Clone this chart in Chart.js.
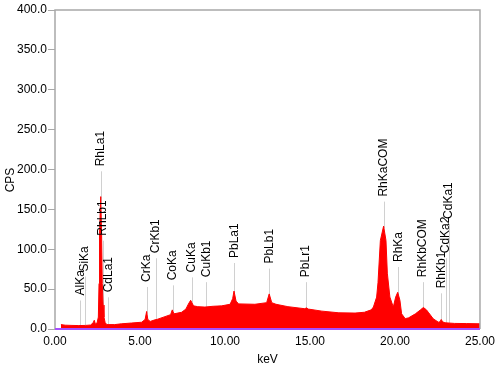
<!DOCTYPE html>
<html>
<head>
<meta charset="utf-8">
<script src="https://cdn.jsdelivr.net/npm/chart.js@4"></script>
<style>
  body { margin: 0; background: #fff; }
  canvas { display: block; }
</style>
</head>
<body>
<canvas id="spectrum" width="500" height="372"></canvas>
<script>
// spectrum (keV / CPS)
const energies = [
  0.35, 0.6, 1.0, 1.4, 1.8, 2.1, 2.25, 2.31, 2.38, 2.48,
  2.55, 2.59, 2.62, 2.69, 2.74, 2.78, 2.83, 2.88, 2.95, 3.05,
  3.5, 3.9, 4.5, 5.1, 5.3, 5.39, 5.46, 5.6, 5.88, 6.0,
  6.47, 6.8, 6.9, 7.0, 7.45, 7.7, 7.84, 7.98, 8.15, 8.4,
  8.82, 9.3, 9.8, 10.3, 10.45, 10.53, 10.65, 10.8, 11.76, 12.45,
  12.6, 12.75, 13.0, 13.7, 14.7, 14.78, 14.9, 15.7, 16.7, 17.65,
  18.2, 18.6, 18.73, 18.92, 19.0, 19.14, 19.33, 19.47, 19.55, 19.7,
  19.9, 20.04, 20.16, 20.29, 20.39, 20.6, 20.8, 21.2, 21.5, 21.67,
  21.85, 21.96, 22.25, 22.55, 22.65, 22.72, 22.8, 22.94, 23.5, 24.2,
  25.0
];
const cps = [
  5.5, 4.8, 4.5, 4.3, 4.5, 5, 8, 11, 6, 8,
  15, 57, 120, 166, 120, 57, 30, 15, 8, 5.5,
  5.5, 6.5, 7.5, 8.5, 12, 22, 12, 9.5, 11.5, 12,
  15.5, 18, 24, 19, 21, 25, 31, 36, 29, 28,
  27.5, 28.5, 29, 31, 38, 47.5, 35, 31.5, 31, 33,
  44, 33, 31, 28, 25.4, 26.5, 25, 22.4, 20.3, 20,
  21, 24, 27.5, 40, 58, 111, 129, 111, 70, 40,
  27.5, 40, 46, 36, 19, 13, 14, 19, 24, 27,
  24, 21, 12.8, 8.6, 9, 12, 9, 7.8, 7, 6.8,
  6.5
];

// peak labels: name, line energy (keV), CPS where the text starts
const peakNames = ['AlKa', 'SiKa', 'RhLa1', 'RhLb1', 'CdLa1', 'CrKa', 'CrKb1', 'CoKa', 'CuKa', 'CuKb1',
  'PbLa1', 'PbLb1', 'PbLr1', 'RhKaCOM', 'RhKa', 'RhKbCOM', 'RhKb1', 'CdKa2', 'CdKa1'];
const peakKeV = [1.49, 1.74, 2.70, 2.83, 3.13, 5.41, 5.95, 6.93, 8.05, 8.91,
  10.55, 12.61, 14.76, 19.35, 20.2, 21.65, 22.72, 22.98, 23.17];
const peakTextCps = [42, 72, 204, 117, 46, 59, 95, 61, 71, 65,
  89, 82, 65, 166, 84, 65, 51, 95, 138];

const xTicks = [0, 5, 10, 15, 20, 25];

function spectrumAt(e) {
  if (e <= energies[0]) return cps[0];
  for (let i = 1; i < energies.length; i++) {
    if (e <= energies[i]) {
      const t = (e - energies[i - 1]) / (energies[i] - energies[i - 1]);
      return cps[i - 1] + t * (cps[i] - cps[i - 1]);
    }
  }
  return cps[cps.length - 1];
}

const labelFont = '12px "Liberation Sans", Arial, sans-serif';

const peakLabels = {
  id: 'peakLabels',
  beforeDatasetsDraw(chart) {
    const { ctx, scales: { x, y } } = chart;
    ctx.save();
    ctx.strokeStyle = '#d0d0d0';
    ctx.lineWidth = 1;
    peakKeV.forEach((e, i) => {
      const px = Math.round(x.getPixelForValue(e)) + 0.5;
      ctx.beginPath();
      ctx.moveTo(px, y.getPixelForValue(peakTextCps[i]) + 5);
      ctx.lineTo(px, y.getPixelForValue(spectrumAt(e)));
      ctx.stroke();
    });
    ctx.restore();
  },
  afterDatasetsDraw(chart) {
    const { ctx, chartArea: a, scales: { x, y } } = chart;
    ctx.save();
    // frame
    ctx.strokeStyle = '#a8a8a8';
    ctx.lineWidth = 1.5;
    ctx.beginPath();
    ctx.moveTo(a.left, a.bottom);
    ctx.lineTo(a.left, a.top);
    ctx.lineTo(a.right, a.top);
    ctx.lineTo(a.right, a.bottom);
    ctx.stroke();
    // zero line
    ctx.strokeStyle = '#a64dff';
    ctx.lineWidth = 2;
    ctx.beginPath();
    ctx.moveTo(a.left, y.getPixelForValue(0));
    ctx.lineTo(a.right, y.getPixelForValue(0));
    ctx.stroke();
    // peak names
    ctx.fillStyle = '#000';
    ctx.font = labelFont;
    ctx.textAlign = 'left';
    ctx.textBaseline = 'middle';
    peakNames.forEach((name, i) => {
      ctx.save();
      ctx.translate(x.getPixelForValue(peakKeV[i]), y.getPixelForValue(peakTextCps[i]));
      ctx.rotate(-Math.PI / 2);
      ctx.fillText(name, 0, 0);
      ctx.restore();
    });
    // y title
    ctx.save();
    ctx.translate(11, 180);
    ctx.rotate(-Math.PI / 2);
    ctx.textAlign = 'center';
    ctx.fillText('CPS', 0, 0);
    ctx.restore();
    ctx.restore();
  }
};

new Chart(document.getElementById('spectrum'), {
  type: 'line',
  data: {
    datasets: [{
      data: energies.map((e, i) => ({ x: e, y: cps[i] })),
      borderColor: '#ff0000',
      backgroundColor: '#ff0000',
      borderWidth: 1,
      pointRadius: 0,
      tension: 0,
      fill: 'origin'
    }]
  },
  options: {
    responsive: false,
    animation: false,
    layout: { padding: { top: 10, right: 20, left: 0, bottom: 0 } },
    plugins: { legend: { display: false }, tooltip: { enabled: false } },
    scales: {
      x: {
        type: 'linear',
        min: 0,
        max: 25,
        afterFit: s => { s.height = 43; },
        afterBuildTicks: s => { s.ticks = xTicks.map(v => ({ value: v })); },
        grid: { display: false, drawTicks: false },
        border: { display: false },
        ticks: {
          padding: 5,
          color: '#000',
          font: { family: '"Liberation Sans", Arial, sans-serif', size: 12 },
          callback: v => v.toFixed(2),
          maxRotation: 0
        },
        title: {
          display: true,
          text: 'keV',
          color: '#000',
          font: { family: '"Liberation Sans", Arial, sans-serif', size: 12 },
          padding: { top: 0, bottom: 5 }
        }
      },
      y: {
        min: 0,
        max: 400,
        afterFit: s => { s.width = 55; },
        grid: { drawOnChartArea: false, drawTicks: true, tickLength: 7, color: '#a8a8a8' },
        border: { display: false },
        ticks: {
          stepSize: 50,
          padding: 1,
          color: '#000',
          font: { family: '"Liberation Sans", Arial, sans-serif', size: 12 },
          callback: v => v.toFixed(1)
        }
      }
    }
  },
  plugins: [peakLabels]
});
</script>
</body>
</html>
